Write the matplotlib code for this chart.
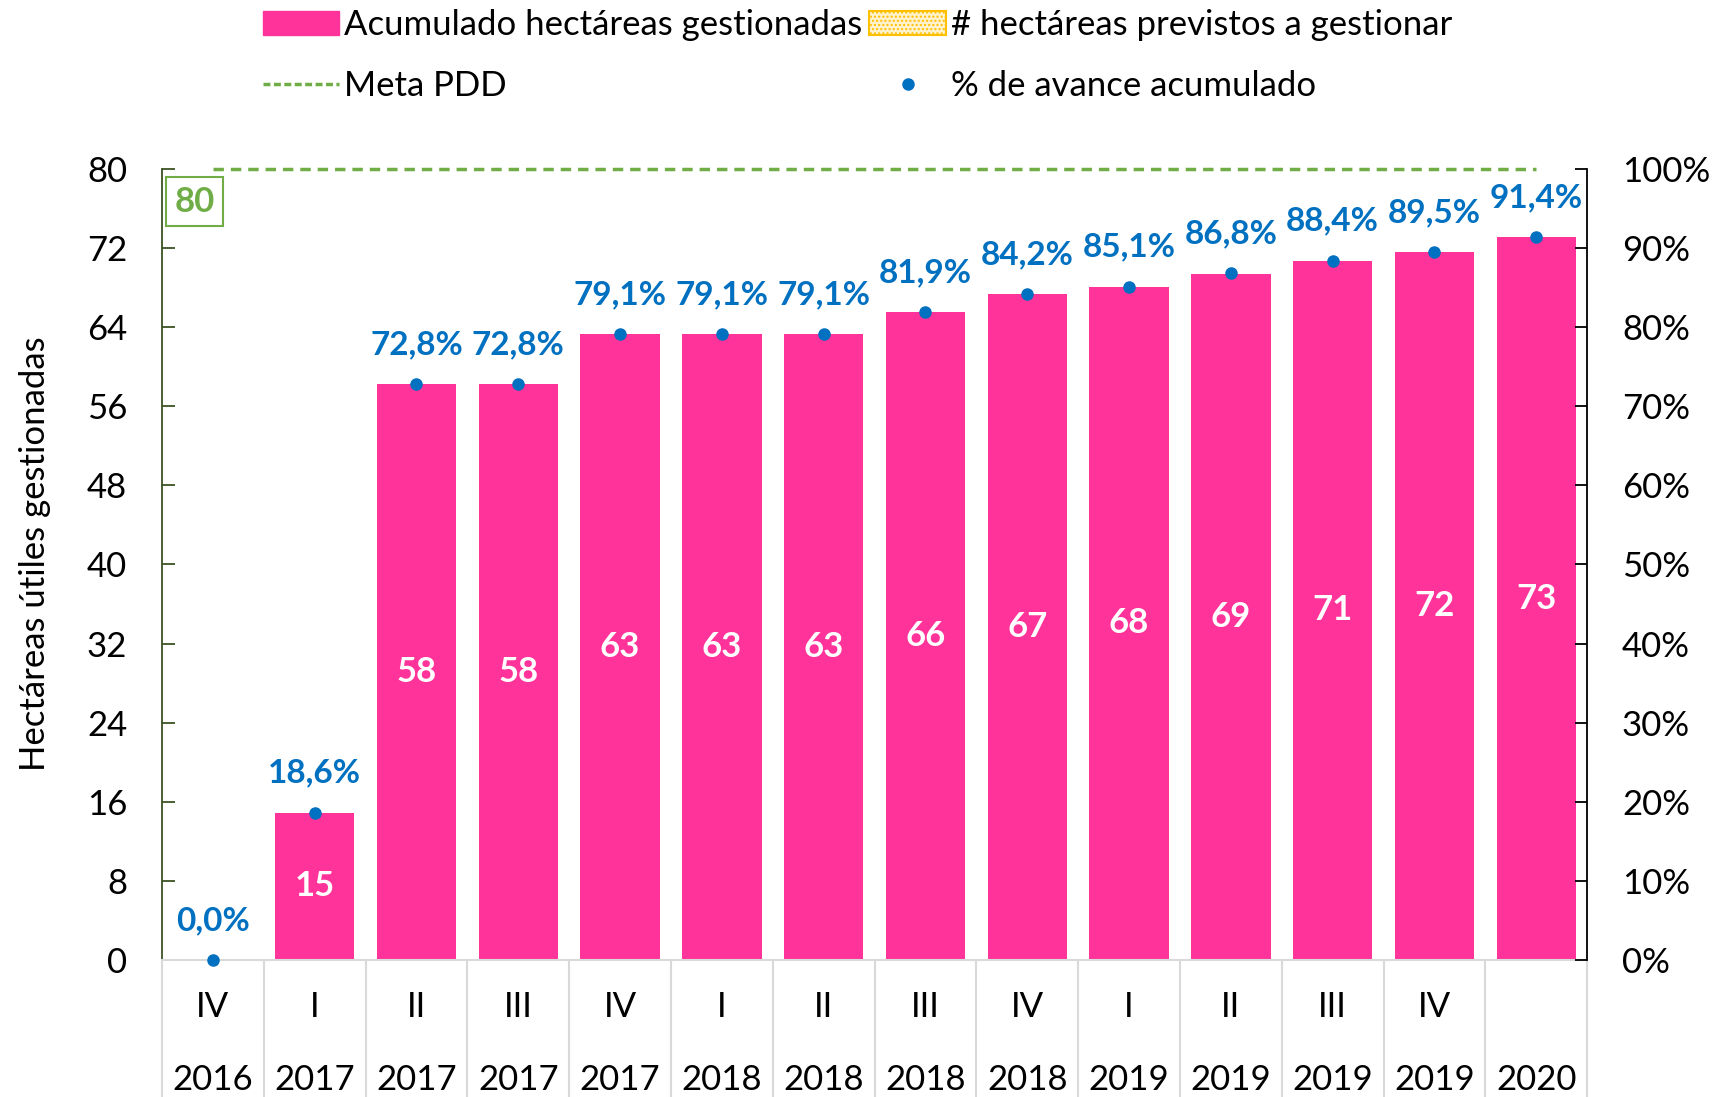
import matplotlib
matplotlib.use("Agg")
import matplotlib.pyplot as plt
import matplotlib.transforms as mtransforms
from matplotlib.patches import Patch
from matplotlib.lines import Line2D

plt.rcParams['font.family'] = ['Lato', 'DejaVu Sans']

quarters = ["IV", "I", "II", "III", "IV", "I", "II", "III", "IV", "I", "II", "III", "IV", ""]
years = ["2016", "2017", "2017", "2017", "2017", "2018", "2018", "2018", "2018",
         "2019", "2019", "2019", "2019", "2020"]
hectareas = [0, 14.9, 58.2, 58.2, 63.3, 63.3, 63.3, 65.5, 67.4, 68.1, 69.4, 70.7, 71.6, 73.1]
bar_labels = ["", "15", "58", "58", "63", "63", "63", "66", "67", "68", "69", "71", "72", "73"]
avance_pct = [0.0, 18.6, 72.8, 72.8, 79.1, 79.1, 79.1, 81.9, 84.2, 85.1, 86.8, 88.4, 89.5, 91.4]
meta_pdd = 80

PINK = "#FF3399"
BLUE = "#0070C0"
GREEN = "#70AD47"
FS = 25

fig = plt.figure(figsize=(17.14, 10.97), dpi=100)
ax = fig.add_axes([0.0945, 0.1249, 0.8315, 0.7211])
ax2 = ax.twinx()

x = list(range(len(quarters)))
ax.bar(x, hectareas, width=0.78, color=PINK, zorder=2)
for xi, h, lab in zip(x, hectareas, bar_labels):
    if lab:
        ax.text(xi, h / 2, lab, ha='center', va='center', color='white',
                fontsize=FS, fontweight='bold', zorder=5)

ax.plot([x[0], x[-1]], [meta_pdd, meta_pdd], color=GREEN, lw=2.5,
        linestyle=(0, (3, 2)), zorder=3, clip_on=False)
ax.text(-0.18, 76.7, "80", ha='center', va='center', color=GREEN, fontsize=FS,
        fontweight='bold', bbox=dict(boxstyle='square,pad=0.25', fc='white', ec=GREEN, lw=1.5),
        zorder=6)

ax2.plot(x, avance_pct, linestyle='none', marker='o', markersize=8, color=BLUE,
         zorder=4, clip_on=False)
for xi, p in zip(x, avance_pct):
    ax2.annotate(f"{p:.1f}%".replace('.', ','), (xi, p), xytext=(0, 28.5),
                 textcoords='offset points', ha='center', va='center', color=BLUE,
                 fontsize=24, fontweight='bold', annotation_clip=False)

ax.set_xlim(-0.5, len(x) - 0.5)
ax.set_ylim(0, 80)
ax.set_yticks(range(0, 81, 8))
ax2.set_ylim(0, 100)
ax2.set_yticks(range(0, 101, 10))
ax2.set_yticklabels([f"{v}%" for v in range(0, 101, 10)])
ax.set_xticks([])

for a in (ax, ax2):
    a.tick_params(axis='y', direction='in', length=9, width=1.3, labelsize=FS, pad=25)
    a.spines['top'].set_visible(False)
ax.spines['left'].set_color('#3B5323')
ax.spines['left'].set_linewidth(1.3)
ax.spines['right'].set_visible(False)
ax2.spines['left'].set_visible(False)
ax2.spines['right'].set_color('black')
ax2.spines['right'].set_linewidth(1.3)
ax.tick_params(axis='y', colors='#3B5323', labelcolor='black')
ax.spines['bottom'].set_color('#D9D9D9')
ax.spines['bottom'].set_linewidth(1.5)
ax2.spines['bottom'].set_visible(False)

ax.set_ylabel("Hectáreas útiles gestionadas", fontsize=FS)
ax.yaxis.set_label_coords(-0.078, 0.513)

trans = mtransforms.blended_transform_factory(ax.transData, ax.transAxes)
for b in range(len(x) + 1):
    ax.plot([b - 0.5, b - 0.5], [0, -0.2], transform=trans, color='#D9D9D9', lw=1.5,
            clip_on=False, zorder=1)
for xi, q, yr in zip(x, quarters, years):
    ax.text(xi, -0.0594, q, transform=trans, ha='center', va='center', fontsize=FS)
    ax.text(xi, -0.152, yr, transform=trans, ha='center', va='center', fontsize=FS)

handles = [
    Patch(facecolor=PINK, edgecolor=PINK),
    Line2D([0], [0], color=GREEN, lw=2.5, linestyle=(0, (2, 1))),
    Patch(facecolor='#FFF2CC', edgecolor='#FFC000', hatch='....', lw=1.5),
    Line2D([0], [0], linestyle='none', marker='o', markersize=8, color=BLUE),
]
labels = ["Acumulado hectáreas gestionadas", "Meta PDD",
          "# hectáreas previstos a gestionar", "% de avance acumulado"]
fig.legend(handles, labels, ncol=2, loc='upper left', bbox_to_anchor=(0.139, 1.014),
           frameon=False, fontsize=FS, handlelength=2.2, handletextpad=0.15,
           columnspacing=0.2, labelspacing=0.85, borderaxespad=0.3)

fig.savefig("out.png", dpi=100)
